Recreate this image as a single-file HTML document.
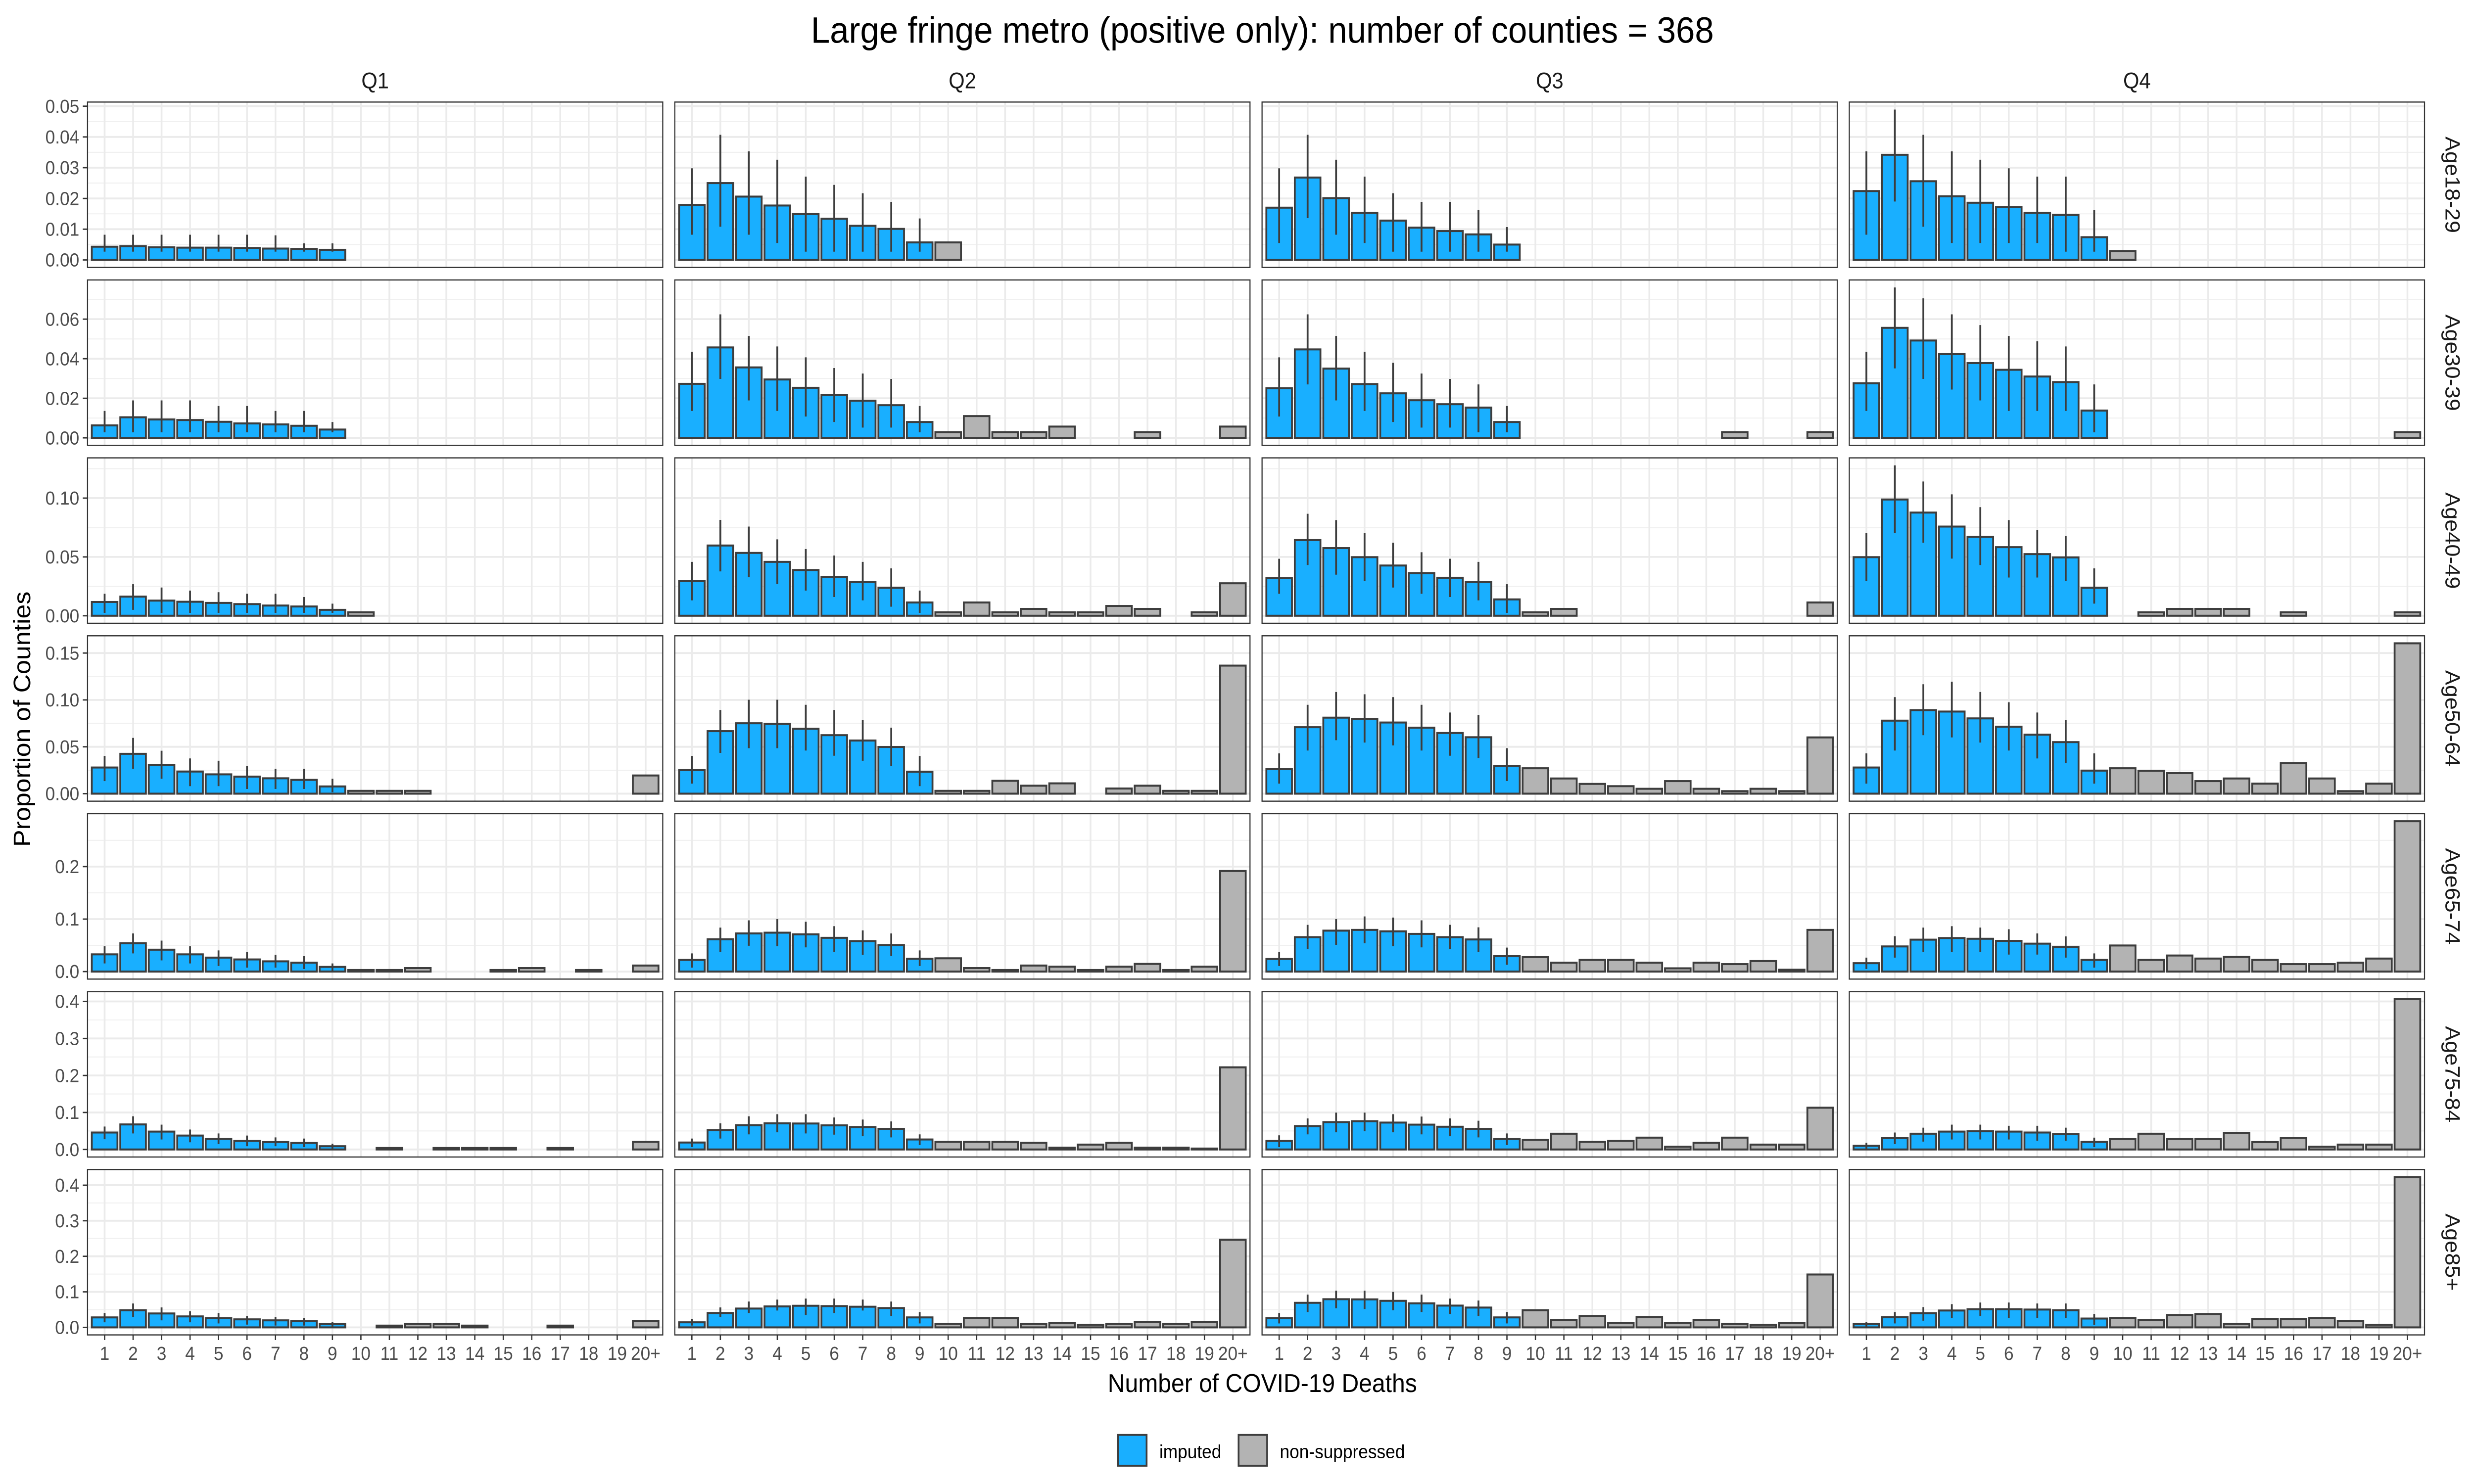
<!DOCTYPE html>
<html><head><meta charset="utf-8"><style>
html,body{margin:0;padding:0;background:#fff;width:100%;height:100%;overflow:hidden;}
#wrap{position:fixed;left:0;top:0;width:100vw;height:100vh;overflow:hidden;}
svg{display:block;width:100vw;height:100vh;}
text{font-family:"Liberation Sans",Arial,sans-serif;}
</style></head><body>
<div id="wrap">
<svg id="chart" xmlns="http://www.w3.org/2000/svg" viewBox="0 0 1560 866.67" preserveAspectRatio="none">
<rect x="0" y="0" width="1560" height="866.67" fill="#fff"/>
<text x="796" y="25" font-size="21.5" text-anchor="middle" fill="#000">Large fringe metro (positive only): number of counties = 368</text>
<text x="796" y="813" font-size="15" text-anchor="middle" fill="#000">Number of COVID-19 Deaths</text>
<text transform="translate(19,420) rotate(-90)" font-size="15" text-anchor="middle" fill="#000">Proportion of Counties</text>
<g>
<rect x="705" y="838" width="18" height="18" fill="#19AFFF" stroke="#3d3d3d" stroke-width="1.1"/>
<text x="731" y="851.5" font-size="11" fill="#000">imputed</text>
<rect x="781" y="838" width="18" height="18" fill="#B3B3B3" stroke="#3d3d3d" stroke-width="1.1"/>
<text x="807" y="851.5" font-size="11" fill="#000">non-suppressed</text>
</g>
<g id="panels"></g>
</svg>
</div>
<script>
const categories = ['1','2','3','4','5','6','7','8','9','10','11','12','13','14','15','16','17','18','19','20+'];
const quarters = ['Q1','Q2','Q3','Q4'];
const ageGroups = ['Age18-29','Age30-39','Age40-49','Age50-64','Age65-74','Age75-84','Age85+'];
const yTicks = [[0,0.01,0.02,0.03,0.04,0.05],[0,0.02,0.04,0.06],[0,0.05,0.10],[0,0.05,0.10,0.15],[0,0.1,0.2],[0,0.1,0.2,0.3,0.4],[0,0.1,0.2,0.3,0.4]];
const yTickLabels = [['0.00','0.01','0.02','0.03','0.04','0.05'],['0.00','0.02','0.04','0.06'],['0.00','0.05','0.10'],['0.00','0.05','0.10','0.15'],['0.0','0.1','0.2'],['0.0','0.1','0.2','0.3','0.4'],['0.0','0.1','0.2','0.3','0.4']];

const impQ1 = [
[.0043,.0045,.0041,.0040,.0040,.0039,.0037,.0036,.0033],
[.0063,.0104,.0093,.0090,.0081,.0073,.0068,.0061,.0042],
[.0117,.0163,.0129,.0119,.0109,.0099,.0087,.0079,.0050],
[.0279,.0425,.0308,.0236,.0206,.0182,.0164,.0147,.0077],
[.0328,.0541,.0417,.0328,.0266,.0231,.0195,.0169,.0089],
[.0458,.0677,.0483,.0376,.0288,.0232,.0201,.0176,.0088],
[.0281,.0484,.0392,.0309,.0263,.0226,.0198,.0175,.0097]];
const impQ2 = [
[.0179,.0250,.0206,.0177,.0149,.0134,.0111,.0101,.0057],
[.0273,.0457,.0356,.0295,.0253,.0217,.0188,.0165,.0080],
[.0294,.0597,.0534,.0458,.0389,.0331,.0286,.0238,.0113],
[.0251,.0667,.0751,.0744,.0692,.0624,.0567,.0498,.0234],
[.0222,.0616,.0727,.0741,.0710,.0643,.0581,.0506,.0244],
[.0188,.0527,.0658,.0708,.0702,.0652,.0608,.0558,.0270],
[.0143,.0406,.0530,.0590,.0608,.0599,.0581,.0544,.0281]];
const impQ3 = [
[.0170,.0268,.0201,.0153,.0128,.0105,.0094,.0083,.0050],
[.0251,.0447,.0350,.0272,.0225,.0190,.0170,.0153,.0080],
[.0321,.0643,.0575,.0498,.0427,.0363,.0323,.0286,.0139],
[.0261,.0709,.0811,.0799,.0759,.0704,.0647,.0602,.0294],
[.0239,.0656,.0780,.0794,.0767,.0718,.0656,.0612,.0293],
[.0232,.0633,.0740,.0765,.0727,.0671,.0614,.0558,.0282],
[.0263,.0691,.0793,.0788,.0747,.0677,.0613,.0558,.0281]];
const impQ4 = [
[.0224,.0342,.0256,.0207,.0186,.0172,.0153,.0146,.0074],
[.0276,.0556,.0492,.0423,.0378,.0344,.0310,.0282,.0138],
[.0498,.0988,.0877,.0758,.0671,.0583,.0524,.0496,.0238],
[.0279,.0779,.0891,.0876,.0803,.0714,.0629,.0550,.0246],
[.0160,.0479,.0608,.0639,.0625,.0585,.0532,.0470,.0222],
[.0100,.0307,.0426,.0483,.0495,.0483,.0458,.0420,.0207],
[.0101,.0290,.0401,.0475,.0512,.0512,.0502,.0484,.0249]];

const hiQ1 = [
[.0082,.0082,.0082,.0082,.0082,.0082,.0080,.0054,.0054],
[.0136,.0189,.0189,.0189,.0161,.0161,.0136,.0136,.0080],
[.0187,.0268,.0240,.0214,.0200,.0187,.0187,.0159,.0103],
[.0403,.0595,.0458,.0376,.0351,.0296,.0266,.0266,.0159],
[.0483,.0727,.0590,.0483,.0403,.0377,.0320,.0293,.0155],
[.0620,.0897,.0671,.0539,.0433,.0376,.0326,.0295,.0157],
[.0406,.0673,.0562,.0456,.0406,.0323,.0295,.0267,.0157]];
const hiQ2 = [
[.0298,.0407,.0353,.0326,.0271,.0244,.0217,.0189,.0135],
[.0435,.0624,.0515,.0462,.0407,.0353,.0325,.0298,.0161],
[.0458,.0815,.0758,.0649,.0567,.0512,.0458,.0403,.0214],
[.0403,.0893,.1002,.1002,.0948,.0893,.0784,.0704,.0403],
[.0346,.0838,.0976,.1002,.0949,.0865,.0785,.0727,.0403],
[.0295,.0708,.0897,.0953,.0953,.0865,.0809,.0759,.0408],
[.0240,.0562,.0728,.0783,.0811,.0811,.0783,.0728,.0433]];
const hiQ3 = [
[.0298,.0407,.0326,.0271,.0217,.0189,.0189,.0162,.0107],
[.0407,.0624,.0515,.0435,.0379,.0325,.0298,.0270,.0161],
[.0484,.0867,.0813,.0704,.0621,.0540,.0484,.0458,.0268],
[.0430,.0948,.1085,.1060,.1030,.0948,.0866,.0841,.0485],
[.0377,.0891,.1002,.1051,.1029,.0976,.0891,.0843,.0457],
[.0382,.0840,.0997,.0997,.0953,.0890,.0840,.0777,.0433],
[.0406,.0922,.1032,.1032,.1000,.0922,.0811,.0756,.0433]];
const hiQ4 = [
[.0353,.0489,.0407,.0353,.0326,.0298,.0271,.0271,.0162],
[.0435,.0760,.0705,.0624,.0570,.0515,.0488,.0462,.0270],
[.0704,.1278,.1141,.1032,.0923,.0813,.0730,.0677,.0403],
[.0430,.1030,.1167,.1194,.1085,.0975,.0866,.0784,.0430],
[.0266,.0674,.0838,.0865,.0838,.0807,.0727,.0670,.0346],
[.0182,.0458,.0589,.0671,.0671,.0640,.0640,.0589,.0320],
[.0157,.0433,.0571,.0654,.0700,.0700,.0673,.0673,.0378]];

const loQ1 = [
[.0027,.0027,.0027,.0027,.0027,.0027,.0027,.0027,.0027],
[.0028,.0028,.0028,.0028,.0028,.0028,.0028,.0028,.0028],
[.0024,.0050,.0024,.0024,.0024,.0024,.0024,.0024,.0024],
[.0134,.0266,.0159,.0080,.0080,.0050,.0050,.0050,.0015],
[.0155,.0346,.0213,.0155,.0106,.0075,.0075,.0049,.0010],
[.0276,.0433,.0270,.0194,.0144,.0088,.0088,.0063,.0025],
[.0143,.0295,.0198,.0143,.0111,.0078,.0051,.0051,.0018]];
const loQ2 = [
[.0082,.0108,.0082,.0055,.0027,.0027,.0027,.0027,.0027],
[.0136,.0298,.0189,.0136,.0108,.0080,.0052,.0052,.0028],
[.0131,.0377,.0327,.0268,.0214,.0159,.0131,.0077,.0024],
[.0107,.0435,.0485,.0485,.0460,.0405,.0351,.0296,.0080],
[.0075,.0377,.0492,.0483,.0461,.0377,.0320,.0297,.0106],
[.0063,.0295,.0408,.0464,.0433,.0401,.0357,.0326,.0119],
[.0051,.0295,.0406,.0475,.0350,.0406,.0475,.0323,.0111]];
const loQ3 = [
[.0055,.0136,.0082,.0055,.0027,.0027,.0027,.0027,.0027],
[.0108,.0270,.0189,.0136,.0080,.0052,.0052,.0028,.0028],
[.0187,.0431,.0349,.0296,.0240,.0187,.0159,.0131,.0024],
[.0107,.0460,.0570,.0545,.0515,.0460,.0405,.0381,.0134],
[.0106,.0426,.0510,.0541,.0483,.0461,.0426,.0377,.0129],
[.0063,.0408,.0464,.0495,.0464,.0408,.0357,.0326,.0119],
[.0111,.0433,.0539,.0516,.0484,.0433,.0378,.0323,.0111]];
const loQ4 = [
[.0082,.0190,.0108,.0055,.0055,.0055,.0055,.0027,.0027],
[.0136,.0351,.0298,.0244,.0189,.0136,.0136,.0136,.0028],
[.0296,.0704,.0621,.0486,.0431,.0325,.0325,.0296,.0103],
[.0107,.0460,.0624,.0600,.0545,.0460,.0376,.0326,.0107],
[.0049,.0266,.0377,.0377,.0377,.0324,.0324,.0266,.0075],
[.0025,.0144,.0213,.0270,.0270,.0270,.0238,.0238,.0063],
[.0018,.0111,.0189,.0267,.0323,.0267,.0267,.0267,.0074]];

const nonQ1 = [
[null,null,null,null,null,null,null,null,null,null,null],
[null,null,null,null,null,null,null,null,null,null,null],
[.003,null,null,null,null,null,null,null,null,null,null],
[.003,.003,.003,null,null,null,null,null,null,null,.0194],
[.003,.003,.0067,null,null,.003,.0067,null,.003,null,.0115],
[null,.004,null,.004,.004,.004,null,.004,null,null,.0207],
[null,.005,.0101,.0101,.005,null,null,.005,null,null,.0184]];
const nonQ2 = [
[.0057,null,null,null,null,null,null,null,null,null,null],
[.0029,.0110,.0029,.0029,.0057,null,null,.0029,null,null,.0057],
[.003,.0113,.003,.0058,.003,.003,.0083,.0058,null,.003,.0276],
[.003,.003,.0137,.0085,.011,null,.0055,.0085,.003,.003,.1366],
[.0253,.0067,.003,.0115,.0093,.003,.0093,.0146,.003,.0093,.1916],
[.0207,.0207,.0207,.0182,.005,.0132,.0182,.005,.005,.0025,.222],
[.0101,.0267,.0267,.0101,.0129,.0074,.0101,.0157,.0101,.0157,.2465]];
const nonQ3 = [
[null,null,null,null,null,null,null,null,null,null,null],
[null,null,null,null,null,null,null,.0029,null,null,.0029],
[.003,.0058,null,null,null,null,null,null,null,null,.0113],
[.0271,.0162,.0104,.008,.0052,.0134,.0052,.0027,.0052,.0027,.060],
[.0275,.0169,.0222,.0222,.0169,.0062,.0169,.0142,.020,.0035,.0794],
[.0263,.0426,.0207,.0232,.032,.0075,.0182,.032,.0132,.0132,.1129],
[.0484,.0212,.0323,.0129,.0295,.0129,.0212,.0101,.0074,.0129,.1488]];
const nonQ4 = [
[.0029,null,null,null,null,null,null,null,null,null,null],
[null,null,null,null,null,null,null,null,null,null,.0029],
[null,.003,.0058,.0058,.0058,null,.003,null,null,null,.003],
[.0271,.0244,.0219,.0134,.0162,.0107,.0326,.0162,.0027,.0107,.1604],
[.0497,.0222,.0306,.0248,.0279,.0222,.0142,.0142,.0169,.0248,.2865],
[.0282,.0426,.0282,.0282,.0451,.0201,.0313,.0075,.0132,.0132,.4063],
[.0267,.0212,.035,.0378,.0101,.024,.024,.0267,.0184,.0074,.423]];

const impAll = [impQ1, impQ2, impQ3, impQ4];
const hiAll = [hiQ1, hiQ2, hiQ3, hiQ4];
const loAll = [loQ1, loQ2, loQ3, loQ4];
const nonAll = [nonQ1, nonQ2, nonQ3, nonQ4];

const NS = 'http://www.w3.org/2000/svg';
const root = document.getElementById('panels');
const PW = 362.7, PH = 96.6;
function panelLeft(c){ return 55.2 + c*370.3; }
function panelTop(r){ return 59.6 + r*103.9; }
function xScale(c, i){ const u = PW/(categories.length - 1 + 1.2); return panelLeft(c) + (0.6 + i)*u; }
function barWidth(){ return 0.9 * PW/(categories.length - 1 + 1.2); }
function rowMax(r){
  let m = 0;
  for (let c=0;c<4;c++){
    impAll[c][r].forEach((v,i)=>{ if(v!=null) m=Math.max(m,v,hiAll[c][r][i]); });
    nonAll[c][r].forEach(v=>{ if(v!=null) m=Math.max(m,v); });
  }
  return m;
}
function yScale(r, v){ const M = rowMax(r); const lo = -0.05*M, hi = 1.05*M; return panelTop(r) + PH - (v - lo)/(hi - lo)*PH; }
function mk(tag, attrs, parent){ const e=document.createElementNS(NS,tag); for(const k in attrs) e.setAttribute(k,attrs[k]); (parent||root).appendChild(e); return e; }

quarters.forEach((q,c)=>{
  const t = mk('text',{x:panelLeft(c)+PW/2, y:51.5, 'font-size':13, 'text-anchor':'middle', fill:'#1a1a1a'});
  t.textContent = q;
  
  
});
ageGroups.forEach((a,r)=>{
  const cy = panelTop(r)+PH/2;
  const t = mk('text',{transform:`translate(1542,${cy}) rotate(90)`, 'font-size':13, 'text-anchor':'middle', fill:'#1a1a1a'});
  t.textContent = a;
  
  
});

for (let r=0;r<7;r++){
  const M = rowMax(r);
  yTicks[r].forEach((tv,k)=>{
    const y = yScale(r,tv);
    const tk = mk('line',{x1:52.2,x2:55.2,y1:y,y2:y,stroke:'#333','stroke-width':0.8});
    
    
    const tl = mk('text',{x:50,y:y+3.8,'font-size':11,'text-anchor':'end',fill:'#4d4d4d'});
    tl.textContent = yTickLabels[r][k];
    
    
  });
  for (let c=0;c<4;c++){
    const L = panelLeft(c), T = panelTop(r);
    const g = mk('g',{});
    
    
    mk('rect',{x:L,y:T,width:PW,height:PH,fill:'#fff'},g);
    const st = yTicks[r][1]-yTicks[r][0];
    for (let v=-st/2; v<=1.05*M; v+=st){
      if (v < -0.05*M) continue;
      const y = yScale(r,v);
      const gl = mk('line',{x1:L,x2:L+PW,y1:y,y2:y,stroke:'#f0f0f0','stroke-width':0.6},g);
      
      
    }
    yTicks[r].forEach(tv=>{
      const y = yScale(r,tv);
      const gl = mk('line',{x1:L,x2:L+PW,y1:y,y2:y,stroke:'#ebebeb','stroke-width':1.1},g);
      
      
    });
    categories.forEach((cat,i)=>{
      const x = xScale(c,i);
      const gl = mk('line',{x1:x,x2:x,y1:T,y2:T+PH,stroke:'#ebebeb','stroke-width':1.1},g);
      
      
    });
    const bw = barWidth(), y0 = yScale(r,0);
    impAll[c][r].forEach((v,i)=>{
      if (v==null) return;
      const x = xScale(c,i), y = yScale(r,v);
      const b = mk('rect',{x:x-bw/2,y:y,width:bw,height:y0-y,fill:'#19AFFF',stroke:'#3d3d3d','stroke-width':1.16},g);
      
      
    });
    impAll[c][r].forEach((v,i)=>{
      if (v==null) return;
      const x = xScale(c,i);
      const e = mk('line',{x1:x,x2:x,y1:yScale(r,loAll[c][r][i]),y2:yScale(r,hiAll[c][r][i]),stroke:'#3d3d3d','stroke-width':1.16},g);
      
      
    });
    nonAll[c][r].forEach((v,j)=>{
      if (v==null) return;
      const i = j+9;
      const x = xScale(c,i), y = yScale(r,v);
      const b = mk('rect',{x:x-bw/2,y:y,width:bw,height:y0-y,fill:'#B3B3B3',stroke:'#3d3d3d','stroke-width':1.16},g);
      
      
    });
    const bd = mk('rect',{x:L,y:T,width:PW,height:PH,fill:'none',stroke:'#333','stroke-width':0.7},g);
    
    
  }
}
for (let c=0;c<4;c++){
  const yb = panelTop(6)+PH;
  categories.forEach((cat,i)=>{
    const x = xScale(c,i);
    const tk = mk('line',{x1:x,x2:x,y1:yb,y2:yb+3,stroke:'#333','stroke-width':0.8});
    
    
    const tl = mk('text',{x:x,y:yb+14.5,'font-size':11,'text-anchor':'middle',fill:'#4d4d4d'});
    tl.textContent = cat;
    
    
  });
}
</script>
</body></html>
